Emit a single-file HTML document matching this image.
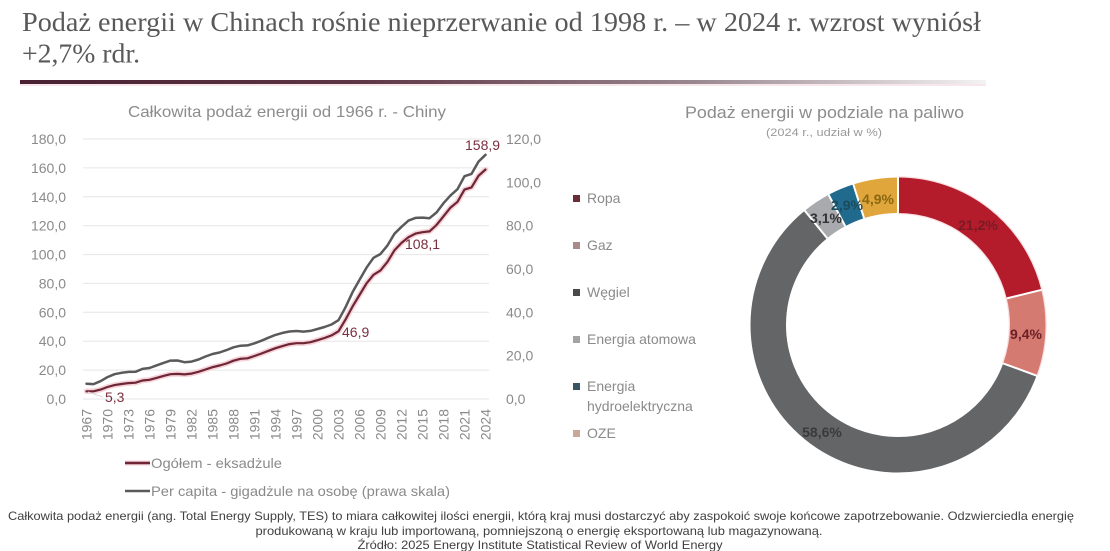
<!DOCTYPE html>
<html><head><meta charset="utf-8"><style>
html,body{margin:0;padding:0;background:#fff;}
svg{display:block;}
text{font-family:"Liberation Sans",sans-serif;}
</style></head><body>
<svg width="1110" height="551" viewBox="0 0 1110 551" xmlns="http://www.w3.org/2000/svg">
<defs>
<linearGradient id="bar" x1="0" x2="1" y1="0" y2="0">
<stop offset="0" stop-color="#4a2132"/>
<stop offset="0.35" stop-color="#5e3544"/>
<stop offset="0.7" stop-color="#9a8890"/>
<stop offset="1" stop-color="#f4f2f3"/>
</linearGradient>
</defs>
<rect width="1110" height="551" fill="#fff"/>
<!-- Title -->
<text x="22" y="31" font-family="Liberation Serif, serif" font-size="27" fill="#595959" textLength="959" lengthAdjust="spacingAndGlyphs" style="font-family:'Liberation Serif',serif">Podaż energii w Chinach rośnie nieprzerwanie od 1998 r. – w 2024 r. wzrost wyniósł</text>
<text x="22" y="62.5" font-size="27" fill="#595959" textLength="118" lengthAdjust="spacingAndGlyphs" style="font-family:'Liberation Serif',serif">+2,7% rdr.</text>
<rect x="20" y="84" width="966" height="2" fill="#f3dde2" opacity="0.7"/>
<rect x="20" y="80" width="966" height="4" fill="url(#bar)"/>

<!-- Left chart title -->
<text x="128" y="117" font-size="16" fill="#8c8c8c" textLength="318" lengthAdjust="spacingAndGlyphs">Całkowita podaż energii od 1966 r. - Chiny</text>

<!-- gridlines -->
<g stroke="#e6e6e6" stroke-width="1">
<line x1="83" x2="489" y1="399" y2="399"/>
<line x1="83" x2="489" y1="370.1" y2="370.1"/>
<line x1="83" x2="489" y1="341.2" y2="341.2"/>
<line x1="83" x2="489" y1="312.3" y2="312.3"/>
<line x1="83" x2="489" y1="283.4" y2="283.4"/>
<line x1="83" x2="489" y1="254.6" y2="254.6"/>
<line x1="83" x2="489" y1="225.7" y2="225.7"/>
<line x1="83" x2="489" y1="196.8" y2="196.8"/>
<line x1="83" x2="489" y1="167.9" y2="167.9"/>
<line x1="83" x2="489" y1="139" y2="139"/>
</g>
<!-- left axis labels -->
<g font-size="14" fill="#8a8a8a" text-anchor="end">
<text x="66" y="404">0,0</text>
<text x="66" y="375.1">20,0</text>
<text x="66" y="346.2">40,0</text>
<text x="66" y="317.3">60,0</text>
<text x="66" y="288.4">80,0</text>
<text x="66" y="259.6">100,0</text>
<text x="66" y="230.7">120,0</text>
<text x="66" y="201.8">140,0</text>
<text x="66" y="172.9">160,0</text>
<text x="66" y="144">180,0</text>
</g>
<!-- right axis labels -->
<g font-size="14" fill="#8a8a8a">
<text x="506" y="404">0,0</text>
<text x="506" y="360.7">20,0</text>
<text x="506" y="317.3">40,0</text>
<text x="506" y="274">60,0</text>
<text x="506" y="230.7">80,0</text>
<text x="506" y="187.3">100,0</text>
<text x="506" y="144">120,0</text>
</g>
<!-- x labels -->
<g font-size="14" fill="#8a8a8a" text-anchor="end">
<text transform="translate(91.5,409) rotate(-90)">1967</text>
<text transform="translate(112.5,409) rotate(-90)">1970</text>
<text transform="translate(133.5,409) rotate(-90)">1973</text>
<text transform="translate(154.5,409) rotate(-90)">1976</text>
<text transform="translate(175.5,409) rotate(-90)">1979</text>
<text transform="translate(196.5,409) rotate(-90)">1982</text>
<text transform="translate(217.5,409) rotate(-90)">1985</text>
<text transform="translate(238.5,409) rotate(-90)">1988</text>
<text transform="translate(259.5,409) rotate(-90)">1991</text>
<text transform="translate(280.5,409) rotate(-90)">1994</text>
<text transform="translate(301.5,409) rotate(-90)">1997</text>
<text transform="translate(322.5,409) rotate(-90)">2000</text>
<text transform="translate(343.5,409) rotate(-90)">2003</text>
<text transform="translate(364.5,409) rotate(-90)">2006</text>
<text transform="translate(385.5,409) rotate(-90)">2009</text>
<text transform="translate(406.5,409) rotate(-90)">2012</text>
<text transform="translate(427.5,409) rotate(-90)">2015</text>
<text transform="translate(448.5,409) rotate(-90)">2018</text>
<text transform="translate(469.5,409) rotate(-90)">2021</text>
<text transform="translate(490.5,409) rotate(-90)">2024</text>
</g>

<!-- per capita line -->
<polyline fill="none" stroke="#5a5a5a" stroke-width="2.5" stroke-linejoin="round" stroke-linecap="round" points="86.5,383.7 93.5,384.1 100.5,381.2 107.5,377.1 114.5,374.2 121.5,372.8 128.5,371.9 135.5,371.8 142.5,368.9 149.5,368.0 156.5,365.4 163.5,362.9 170.5,360.6 177.5,360.5 184.5,362.2 191.5,361.6 198.5,359.5 205.5,356.5 212.5,354.0 219.5,352.5 226.5,350.1 233.5,347.3 240.5,345.7 247.5,345.4 254.5,343.3 261.5,340.7 268.5,337.7 275.5,334.9 282.5,332.9 289.5,331.5 296.5,331.0 303.5,331.6 310.5,330.9 317.5,329.0 324.5,327.0 331.5,324.5 338.5,320.2 345.5,307.3 352.5,292.3 359.5,279.9 366.5,267.7 373.5,257.8 380.5,254.0 387.5,245.4 394.5,233.7 401.5,226.8 408.5,220.6 415.5,217.9 422.5,217.6 429.5,218.2 436.5,212.5 443.5,203.2 450.5,195.4 457.5,189.2 464.5,176.2 471.5,173.9 478.5,161.6 485.5,154.8"/>
<!-- total line glow + core -->
<polyline fill="none" stroke="#f5d3d9" stroke-width="5.5" stroke-linejoin="round" stroke-linecap="round" points="86.5,391.3 93.5,391.3 100.5,389.6 107.5,387.0 114.5,385.1 121.5,384.0 128.5,383.1 135.5,382.7 142.5,380.5 149.5,379.8 156.5,377.9 163.5,375.9 170.5,374.2 177.5,373.9 184.5,374.4 191.5,373.6 198.5,371.8 205.5,369.5 212.5,367.2 219.5,365.5 226.5,363.5 233.5,360.7 240.5,358.8 247.5,358.3 254.5,356.0 261.5,353.5 268.5,350.8 275.5,348.2 282.5,346.1 289.5,344.1 296.5,343.2 303.5,343.2 310.5,342.2 317.5,340.2 324.5,338.0 331.5,335.4 338.5,331.3 345.5,319.6 352.5,306.6 359.5,295.0 366.5,283.4 373.5,274.8 380.5,270.4 387.5,261.8 394.5,250.2 401.5,242.9 408.5,237.2 415.5,233.6 422.5,232.2 429.5,231.4 436.5,225.0 443.5,216.3 450.5,207.6 457.5,201.8 464.5,189.6 471.5,187.4 478.5,175.8 485.5,169.5"/>
<polyline fill="none" stroke="#6e2636" stroke-width="2.2" stroke-linejoin="round" stroke-linecap="round" points="86.5,391.3 93.5,391.3 100.5,389.6 107.5,387.0 114.5,385.1 121.5,384.0 128.5,383.1 135.5,382.7 142.5,380.5 149.5,379.8 156.5,377.9 163.5,375.9 170.5,374.2 177.5,373.9 184.5,374.4 191.5,373.6 198.5,371.8 205.5,369.5 212.5,367.2 219.5,365.5 226.5,363.5 233.5,360.7 240.5,358.8 247.5,358.3 254.5,356.0 261.5,353.5 268.5,350.8 275.5,348.2 282.5,346.1 289.5,344.1 296.5,343.2 303.5,343.2 310.5,342.2 317.5,340.2 324.5,338.0 331.5,335.4 338.5,331.3 345.5,319.6 352.5,306.6 359.5,295.0 366.5,283.4 373.5,274.8 380.5,270.4 387.5,261.8 394.5,250.2 401.5,242.9 408.5,237.2 415.5,233.6 422.5,232.2 429.5,231.4 436.5,225.0 443.5,216.3 450.5,207.6 457.5,201.8 464.5,189.6 471.5,187.4 478.5,175.8 485.5,169.5"/>
<line x1="88" y1="392" x2="103" y2="397" stroke="#d8d8d8" stroke-width="1"/>
<!-- data labels -->
<g font-size="14" fill="#7a2e3e">
<text x="105" y="402">5,3</text>
<text x="342" y="337">46,9</text>
<text x="405" y="249">108,1</text>
<text x="465" y="150">158,9</text>
</g>
<!-- left legend -->
<line x1="125" y1="463" x2="150" y2="463" stroke="#f5d3d9" stroke-width="5"/>
<line x1="125" y1="463" x2="150" y2="463" stroke="#6e2636" stroke-width="2.5"/>
<text x="151" y="468" font-size="14" fill="#8a8a8a" textLength="131" lengthAdjust="spacingAndGlyphs">Ogółem - eksadżule</text>
<line x1="125" y1="491" x2="150" y2="491" stroke="#5a5a5a" stroke-width="2.5"/>
<text x="151" y="496" font-size="14" fill="#8a8a8a" textLength="299" lengthAdjust="spacingAndGlyphs">Per capita - gigadżule na osobę (prawa skala)</text>

<!-- Right chart title -->
<text x="685" y="118" font-size="17" fill="#8c8c8c" textLength="279" lengthAdjust="spacingAndGlyphs">Podaż energii w podziale na paliwo</text>
<text x="766" y="136" font-size="11" fill="#9a9a9a" textLength="116" lengthAdjust="spacingAndGlyphs">(2024 r., udział w %)</text>

<!-- right legend -->
<g font-size="14" fill="#8a8a8a">
<rect x="573" y="195" width="7" height="7" fill="#6a2c36"/><text x="587" y="203">Ropa</text>
<rect x="573" y="242" width="7" height="7" fill="#a88c8c"/><text x="587" y="250">Gaz</text>
<rect x="573" y="289" width="7" height="7" fill="#4a4a4a"/><text x="587" y="297">Węgiel</text>
<rect x="573" y="336" width="7" height="7" fill="#a3a3a3"/><text x="587" y="344">Energia atomowa</text>
<rect x="573" y="383" width="7" height="7" fill="#3b5562"/><text x="587" y="391">Energia</text>
<text x="587" y="411">hydroelektryczna</text>
<rect x="573" y="430" width="7" height="7" fill="#c9a899"/><text x="587" y="438">OZE</text>
</g>

<!-- donut -->
<g transform="translate(898,325) rotate(-90)" fill="none" stroke-width="35.5">
<circle r="129.75" stroke="#f6c9cf" stroke-width="38" stroke-dasharray="249.22 566.03" stroke-dashoffset="0" opacity="0.6"/>
<circle r="129.75" stroke="#b51c2b" stroke-dasharray="172.66 642.59" stroke-dashoffset="0"/>
<circle r="129.75" stroke="#d57a71" stroke-dasharray="76.56 738.69" stroke-dashoffset="-172.66"/>
<circle r="129.75" stroke="#636567" stroke-dasharray="477.26 337.99" stroke-dashoffset="-249.22"/>
<circle r="129.75" stroke="#a8aaad" stroke-dasharray="25.25 790" stroke-dashoffset="-726.48"/>
<circle r="129.75" stroke="#1f6a8d" stroke-dasharray="23.62 791.63" stroke-dashoffset="-751.73"/>
<circle r="129.75" stroke="#e0a63c" stroke-dasharray="39.91 775.34" stroke-dashoffset="-775.35"/>
</g>
<g stroke="#fff" stroke-width="2">
<line x1="898" y1="213" x2="898" y2="177"/>
<line x1="1006.8" y1="298.4" x2="1041.8" y2="289.8"/>
<line x1="1003.2" y1="363.4" x2="1037" y2="375.8"/>
<line x1="827.2" y1="238.2" x2="804.4" y2="210.3"/>
<line x1="845.3" y1="226.2" x2="828.4" y2="194.4"/>
<line x1="864.1" y1="218.3" x2="853.2" y2="184"/>
</g>
<g font-size="14" font-weight="bold" text-anchor="middle">
<text x="978" y="230" fill="#7a1a24">21,2%</text>
<text x="1026" y="339" fill="#6b1f26">9,4%</text>
<text x="822" y="437" fill="#3a3a3a">58,6%</text>
<text x="826" y="223" fill="#333">3,1%</text>
<text x="847" y="210" fill="#1d4b5c">2,9%</text>
<text x="878" y="204" fill="#8a6812">4,9%</text>
</g>

<!-- footer -->
<g font-size="12" fill="#404040" text-anchor="middle">
<text x="541" y="520" textLength="1066" lengthAdjust="spacingAndGlyphs">Całkowita podaż energii (ang. Total Energy Supply, TES) to miara całkowitej ilości energii, którą kraj musi dostarczyć aby zaspokoić swoje końcowe zapotrzebowanie. Odzwierciedla energię</text>
<text x="539" y="535" textLength="567" lengthAdjust="spacingAndGlyphs">produkowaną w kraju lub importowaną, pomniejszoną o energię eksportowaną lub magazynowaną.</text>
<text x="540" y="549" textLength="365" lengthAdjust="spacingAndGlyphs">Źródło: 2025 Energy Institute Statistical Review of World Energy</text>
</g>
</svg>
</body></html>
